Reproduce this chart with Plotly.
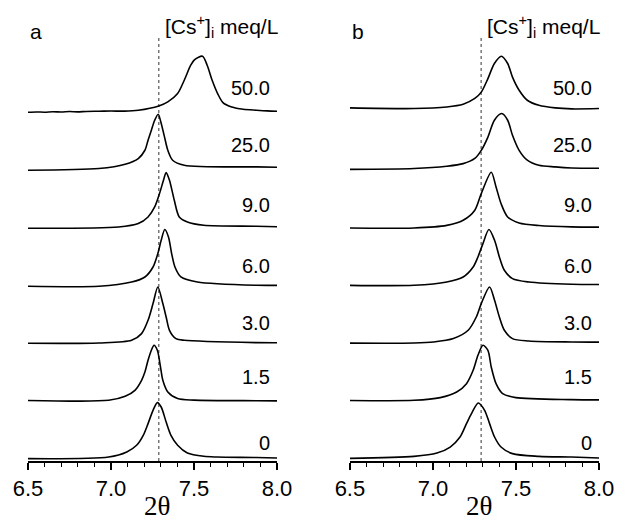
import plotly.graph_objects as go

# ---------------- data ----------------
LABELS = ["0", "1.5", "3.0", "6.0", "9.0", "25.0", "50.0"]
LABEL_OFFSET = [0.25, 0.40, 0.34, 0.32, 0.39, 0.42, 0.41]
REF_LINE_A = 7.288
REF_LINE_B = 7.290

# panel a  (x = 2theta, y = normalised intensity above own baseline)
A0_X = [6.5, 6.986, 7.095, 7.154, 7.194, 7.223, 7.253, 7.279, 7.302, 7.332, 7.361, 7.401, 7.460, 7.559, 7.638, 7.875, 8.0]
A0_Y = [-0.014, 0.014, 0.101, 0.217, 0.390, 0.593, 0.824, 0.957, 0.881, 0.621, 0.390, 0.217, 0.083, 0.026, 0.014, 0.005, -0.003]

A15_X = [6.5, 6.986, 7.085, 7.144, 7.184, 7.204, 7.223, 7.243, 7.259, 7.279, 7.298, 7.312, 7.342, 7.401, 7.500, 7.875, 8.0]
A15_Y = [-0.005, -0.003, 0.066, 0.170, 0.344, 0.488, 0.691, 0.864, 0.951, 0.864, 0.574, 0.344, 0.141, 0.027, 0.000, -0.010, -0.012]

A3_X = [6.5, 6.927, 7.124, 7.184, 7.223, 7.253, 7.282, 7.312, 7.332, 7.352, 7.391, 7.441, 7.875, 8.0]
A3_Y = [-0.015, -0.009, 0.037, 0.153, 0.384, 0.674, 0.962, 0.674, 0.441, 0.211, 0.067, 0.037, -0.003, -0.005]

A6_X = [6.5, 6.927, 7.124, 7.204, 7.253, 7.282, 7.302, 7.324, 7.346, 7.365, 7.385, 7.421, 7.520, 7.875, 8.0]
A6_Y = [-0.026, -0.026, 0.048, 0.135, 0.308, 0.541, 0.771, 0.957, 0.829, 0.541, 0.308, 0.135, 0.048, -0.009, -0.010]

A9_X = [6.5, 7.045, 7.164, 7.223, 7.263, 7.292, 7.316, 7.332, 7.352, 7.381, 7.411, 7.460, 7.559, 7.875, 8.0]
A9_Y = [-0.019, 0.002, 0.061, 0.176, 0.349, 0.581, 0.812, 0.945, 0.812, 0.465, 0.176, 0.089, 0.032, 0.015, 0.006]

A25_X = [6.5, 6.927, 7.085, 7.164, 7.204, 7.223, 7.243, 7.263, 7.284, 7.300, 7.322, 7.342, 7.371, 7.441, 7.875, 8.0]
A25_Y = [-0.015, 0.015, 0.089, 0.188, 0.332, 0.505, 0.679, 0.852, 0.956, 0.823, 0.563, 0.332, 0.159, 0.072, 0.043, 0.037]

A50_X = [6.5, 6.55, 6.6, 6.65, 6.7, 6.75, 6.8, 6.85, 6.927, 7.0, 7.08, 7.164, 7.288, 7.342, 7.401, 7.441,
         7.480, 7.504, 7.551, 7.579, 7.609, 7.642, 7.674, 7.727, 7.796, 7.875, 7.94, 8.0]
A50_Y = [-0.009, -0.004, -0.008, 0.000, -0.005, 0.003, -0.002, 0.005, 0.008, 0.012, 0.010, 0.026, 0.100, 0.170, 0.315, 0.546,
         0.806, 0.905, 0.962, 0.806, 0.546, 0.315, 0.159, 0.083, 0.043, 0.026, 0.014, 0.008]

# panel b
B0_X = [6.5, 6.886, 7.024, 7.104, 7.163, 7.202, 7.232, 7.273, 7.311, 7.341, 7.371, 7.410, 7.479, 7.638, 7.835, 8.0]
B0_Y = [-0.009, 0.026, 0.083, 0.187, 0.361, 0.593, 0.766, 0.950, 0.824, 0.593, 0.361, 0.187, 0.073, 0.026, 0.014, -0.003]

B15_X = [6.5, 6.886, 7.044, 7.143, 7.202, 7.242, 7.271, 7.301, 7.331, 7.351, 7.380, 7.420, 7.499, 7.835, 8.0]
B15_Y = [-0.005, -0.003, 0.044, 0.141, 0.286, 0.517, 0.777, 0.951, 0.864, 0.574, 0.286, 0.113, 0.044, 0.009, 0.005]

B3_X = [6.5, 6.886, 7.004, 7.123, 7.212, 7.261, 7.291, 7.341, 7.371, 7.400, 7.430, 7.479, 7.578, 7.835, 8.0]
B3_Y = [-0.012, -0.010, 0.008, 0.067, 0.211, 0.441, 0.674, 0.962, 0.731, 0.441, 0.211, 0.067, 0.026, 0.008, 0.005]

B6_X = [6.5, 6.886, 7.083, 7.182, 7.242, 7.271, 7.301, 7.337, 7.371, 7.400, 7.430, 7.479, 7.578, 7.835, 8.0]
B6_Y = [-0.010, -0.009, 0.048, 0.135, 0.308, 0.482, 0.714, 0.957, 0.771, 0.482, 0.251, 0.107, 0.048, 0.009, 0.005]

B9_X = [6.5, 6.886, 7.083, 7.182, 7.252, 7.291, 7.351, 7.380, 7.410, 7.450, 7.519, 7.638, 7.835, 8.0]
B9_Y = [-0.017, -0.015, 0.030, 0.118, 0.292, 0.581, 0.951, 0.696, 0.408, 0.176, 0.072, 0.027, 0.003, 0.000]

B25_X = [6.5, 6.886, 7.083, 7.182, 7.252, 7.291, 7.331, 7.370, 7.414, 7.450, 7.479, 7.519, 7.568, 7.638, 7.736, 7.835, 8.0]
B25_Y = [0.000, 0.015, 0.055, 0.100, 0.190, 0.330, 0.560, 0.852, 0.968, 0.852, 0.592, 0.330, 0.160, 0.072, 0.043, 0.025, 0.020]

B50_X = [6.5, 6.886, 7.083, 7.182, 7.252, 7.291, 7.331, 7.370, 7.412, 7.450, 7.479, 7.519, 7.568, 7.638, 7.736, 7.835, 8.0]
B50_Y = [0.066, 0.055, 0.083, 0.130, 0.230, 0.340, 0.575, 0.836, 0.962, 0.836, 0.600, 0.372, 0.199, 0.112, 0.066, 0.049, 0.055]

PANEL_A = [(A0_X, A0_Y), (A15_X, A15_Y), (A3_X, A3_Y), (A6_X, A6_Y), (A9_X, A9_Y), (A25_X, A25_Y), (A50_X, A50_Y)]
PANEL_B = [(B0_X, B0_Y), (B15_X, B15_Y), (B3_X, B3_Y), (B6_X, B6_Y), (B9_X, B9_Y), (B25_X, B25_Y), (B50_X, B50_Y)]

# ---------------- figure ----------------
fig = go.Figure()
Y_BOTTOM = -0.055
Y_TOP = 7.59
LINE_TOP = 7.28

for axis_id, panel, ref in (("", PANEL_A, REF_LINE_A), ("2", PANEL_B, REF_LINE_B)):
    xa, ya = "x" + axis_id, "y" + axis_id
    fig.add_trace(go.Scatter(x=[ref, ref], y=[Y_BOTTOM, LINE_TOP], mode="lines",
                             line=dict(color="#333333", width=1, dash="dot"),
                             xaxis=xa, yaxis=ya, showlegend=False, hoverinfo="skip"))
    for i, (xs, ys) in enumerate(panel):
        fig.add_trace(go.Scatter(x=xs, y=[v + i for v in ys], mode="lines",
                                 line=dict(color="black", width=1.6, shape="spline", smoothing=0.8),
                                 xaxis=xa, yaxis=ya, showlegend=False))

annotations = []
for axis_id in ("", "2"):
    xref_dom = "x" + axis_id + " domain"
    for i, lab in enumerate(LABELS):
        annotations.append(dict(text=lab, x=1, xref=xref_dom, xshift=-5, xanchor="right",
                                y=i + LABEL_OFFSET[i], yref="y" + axis_id, yanchor="middle",
                                showarrow=False, font=dict(family="Liberation Sans, Arial", size=20, color="black")))
    annotations.append(dict(text="[Cs<sup>+</sup>]<sub>i</sub> meq/L", x=1, xref=xref_dom, xshift=3, xanchor="right",
                            y=0.985, yref="paper", yanchor="middle", showarrow=False,
                            font=dict(family="Liberation Sans, Arial", size=21, color="black")))

annotations.append(dict(text="a", x=0, xref="x domain", xanchor="left", y=0.975, yref="paper", yanchor="middle",
                        showarrow=False, font=dict(family="Liberation Sans, Arial", size=21, color="black")))
annotations.append(dict(text="b", x=0, xref="x2 domain", xanchor="left", y=0.975, yref="paper", yanchor="middle",
                        showarrow=False, font=dict(family="Liberation Sans, Arial", size=21, color="black")))
annotations.append(dict(text="2θ", x=0.2267, xref="paper", xanchor="center", y=-0.103, yref="paper",
                        yanchor="middle", showarrow=False,
                        font=dict(family="Liberation Serif, Times New Roman", size=27, color="black")))
annotations.append(dict(text="2θ", x=0.7897, xref="paper", xanchor="center", y=-0.103, yref="paper",
                        yanchor="middle", showarrow=False,
                        font=dict(family="Liberation Serif, Times New Roman", size=27, color="black")))

xaxis_common = dict(range=[6.5, 8.0], showline=True, linecolor="black", linewidth=1.5, mirror=False,
                    ticks="outside", ticklen=7, tickwidth=1.5, tickcolor="black",
                    tick0=6.5, dtick=0.5, tickformat=".1f", showgrid=False, zeroline=False,
                    tickfont=dict(family="Liberation Sans, Arial", size=22, color="black"),
                    minor=dict(ticks="outside", ticklen=4, tickwidth=1.2, tickcolor="black", dtick=0.1, tick0=6.5,
                               showgrid=False))
yaxis_common = dict(range=[Y_BOTTOM, Y_TOP], visible=False, showgrid=False, zeroline=False)

fig.update_layout(
    width=626, height=525,
    margin=dict(l=28, r=18, t=20, b=64),
    paper_bgcolor="white", plot_bgcolor="white",
    xaxis=dict(domain=[0, 0.4362], anchor="y", **xaxis_common),
    yaxis=dict(anchor="x", **yaxis_common),
    xaxis2=dict(domain=[0.5638, 1], anchor="y2", **xaxis_common),
    yaxis2=dict(anchor="x2", **yaxis_common),
    annotations=annotations,
)

fig.write_html("out.html")
